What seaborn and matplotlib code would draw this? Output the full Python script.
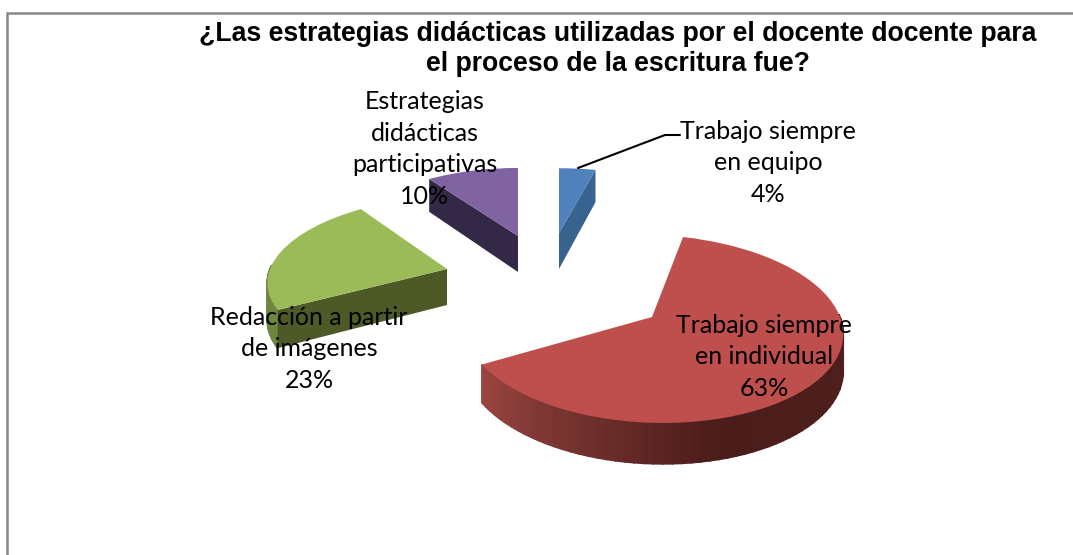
import numpy as np
import matplotlib
matplotlib.use('Agg')
import matplotlib.pyplot as plt
import seaborn as sns
from matplotlib.colors import LinearSegmentedColormap
from matplotlib.transforms import Transform

categories = ['Trabajo siempre\nen equipo', 'Trabajo siempre\nen individual',
              'Redacción a partir\nde imágenes', 'Estrategias\ndidácticas\nparticipativas']
values = [4, 63, 23, 10]
title = '¿Las estrategias didácticas utilizadas por el docente docente para\nel proceso de la escritura fue?'

top_colors = ['#4f81bd', '#bf4f4c', '#9bbb59', '#8064a2']
cut_colors = ['#39638f', '#8f3b39', '#4d5a28', '#332846']
rim_colors = ['#39638f', '#8f3b39', '#6f8640', '#332846']

# where the point of each slice lands on the page (pixels)
apex = [(559, 233), (652, 317), (447, 269), (518, 236)]
label_pos = [(768, 163), (764, 357), (309, 349), (425, 149)]
# which cut edge of the slice faces the viewer
cut_edge = [0, None, 1, 1]
# per slice perspective: width, height, vanishing, skew
shape = [(178, 79, 0.22, 0), (188, 92.6, 0.126, 11), (177, 80.5, 0.109, -11.7), (178, 83, 0.22, 0)]
Z = 36


def project(x, y, ox, oy, sh, z=0.0):
    R, B, K, s = sh
    w = 1 + K * y
    return ox + R * x / w - s * y, oy - B * y / w + z * Z / (1 + 0.12 * y)


class Tilt(Transform):
    input_dims = 2
    output_dims = 2

    def __init__(self, ox, oy, sh):
        super().__init__()
        self.ox, self.oy, self.sh = ox, oy, sh

    def transform_non_affine(self, xy):
        xy = np.asarray(xy, dtype=float)
        sx, sy = project(xy[:, 0], xy[:, 1], self.ox, self.oy, self.sh)
        return np.column_stack([sx, sy])


sns.set_theme(style='white')
plt.rcParams['font.family'] = ['Lato', 'DejaVu Sans']

fig = plt.figure(figsize=(10.73, 5.55), dpi=100)
ax = fig.add_axes([0, 0, 1, 1])
wedges, _ = ax.pie(values, colors=top_colors, startangle=90, counterclock=False,
                   wedgeprops={'linewidth': 0})
ax.set_aspect('auto')
ax.set_xlim(0, 1073)
ax.set_ylim(555, 0)

rim_red = LinearSegmentedColormap.from_list('rim', ['#9a4541', '#4a1c1a', '#4f201e'])

for i, w in enumerate(wedges):
    ox, oy = apex[i]
    sh = shape[i]
    w.set_transform(Tilt(ox, oy, sh) + ax.transData)
    w.set_zorder(5)

    # rim: only the part of the arc turned towards the viewer
    angles = np.linspace(w.theta1, w.theta2, 90)
    angles = angles[np.sin(np.radians(angles)) < 0.06]
    for n in range(len(angles) - 1):
        a = np.radians(angles[n:n + 2])
        x, y = np.cos(a), np.sin(a)
        x0, y0 = project(x, y, ox, oy, sh)
        x1, y1 = project(x, y, ox, oy, sh, 1)
        col = rim_red(n / (len(angles) - 2)) if i == 1 else rim_colors[i]
        ax.fill([x0[0], x0[1], x1[1], x1[0]], [y0[0], y0[1], y1[1], y1[0]],
                color=col, lw=1.2, zorder=3)

    if cut_edge[i] is not None:
        a = np.radians(w.theta2 if cut_edge[i] else w.theta1)
        x0, y0 = project(np.cos(a), np.sin(a), ox, oy, sh)
        x1, y1 = project(np.cos(a), np.sin(a), ox, oy, sh, 1)
        cx, cy = project(0.0, 0.0, ox, oy, sh, 1)
        ax.fill([ox, x0, x1, cx], [oy, y0, y1, cy], color=cut_colors[i], lw=0, zorder=4)

for (px, py), cat, val in zip(label_pos, categories, values):
    ax.text(px, py, f'{cat}\n{val}%', ha='center', va='center', fontsize=18,
            color='black', linespacing=1.45, zorder=8)

ax.plot([578, 665, 680], [168, 135, 135], color='black', lw=1.5, zorder=7)

ax.text(618, 49, title, ha='center', va='center', fontsize=19.15, fontweight='bold',
        family=['Liberation Sans', 'DejaVu Sans'], linespacing=1.18, color='black', zorder=8)

# chart frame, cut off by the screenshot on the right and bottom
ax.plot([7, 7, 1073], [555, 13, 13], color='#868686', lw=1.8, zorder=2, solid_joinstyle='miter')

fig.savefig('out.png', dpi=100, facecolor='white')
